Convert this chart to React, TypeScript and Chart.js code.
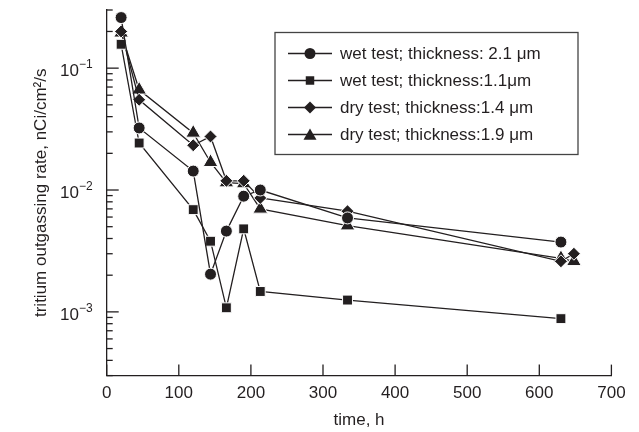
import React, { useEffect, useRef } from "react";
import { Chart, registerables } from "chart.js";

Chart.register(...registerables);

// ---- data ----
const wetTimes = [20, 45, 120, 144, 166, 190, 213, 334, 630];
const dryTimes = [20, 45, 120, 144, 166, 190, 213, 334, 630, 648];
const wet21 = [0.26, 0.0323, 0.0143, 0.00204, 0.0046, 0.0089, 0.01, 0.0059, 0.00374];
const wet11 = [0.157, 0.0243, 0.0069, 0.0038, 0.00108, 0.0048, 0.00147, 0.00125, 0.00088];
const dry14 = [0.2, 0.055, 0.0233, 0.0275, 0.0119, 0.0119, 0.0086, 0.0067, 0.0026, 0.003];
const dry19 = [0.195, 0.0664, 0.0294, 0.0169, 0.0115, 0.0113, 0.007, 0.0051, 0.00275, 0.0026];
const seriesLabels = [
  "wet test; thickness: 2.1 \u03bcm",
  "wet test; thickness:1.1\u03bcm",
  "dry test; thickness:1.4 \u03bcm",
  "dry test; thickness:1.9 \u03bcm",
];
const seriesMarkers = ["circle", "rect", "rectRot", "triangle"];
const yDecades = [1e-3, 1e-2, 1e-1];
const yDecadeExponents = ["\u22123", "\u22122", "\u22121"];
const xTitle = "time, h";
const yTitle = "tritium outgassing rate, nCi/cm\u00b2/s";

const INK = "#231f20";
const FONT = '"Liberation Sans", Arial, sans-serif';

function drawMarker(ctx: CanvasRenderingContext2D, kind: string, x: number, y: number, r: number) {
  ctx.beginPath();
  if (kind === "circle") {
    ctx.arc(x, y, r, 0, Math.PI * 2);
  } else if (kind === "rect") {
    const s = r * Math.SQRT1_2;
    ctx.rect(x - s, y - s, 2 * s, 2 * s);
  } else if (kind === "rectRot") {
    ctx.moveTo(x - r, y);
    ctx.lineTo(x, y - r);
    ctx.lineTo(x + r, y);
    ctx.lineTo(x, y + r);
    ctx.closePath();
  } else {
    const a = (2 * Math.PI) / 3;
    ctx.moveTo(x, y - r);
    ctx.lineTo(x + Math.sin(a) * r, y - Math.cos(a) * r);
    ctx.lineTo(x + Math.sin(2 * a) * r, y - Math.cos(2 * a) * r);
    ctx.closePath();
  }
  ctx.fill();
}

const customAxes = {
  id: "customAxes",
  afterDraw(chart: any) {
    const { ctx, chartArea } = chart;
    const xs = chart.scales.x;
    const ys = chart.scales.y;
    ctx.save();
    ctx.strokeStyle = INK;
    ctx.lineWidth = 1.3;
    // inward y ticks (log, majors longer)
    for (let e = -4; e <= 0; e++) {
      for (let m = 1; m <= 9; m++) {
        const v = m * Math.pow(10, e);
        if (v < ys.min * 0.999 || v > ys.max * 1.001) continue;
        const py = ys.getPixelForValue(v);
        const len = m === 1 ? 12 : 6;
        ctx.beginPath();
        ctx.moveTo(chartArea.left, py);
        ctx.lineTo(chartArea.left + len, py);
        ctx.stroke();
      }
    }
    // inward x ticks
    for (const t of xs.ticks) {
      const px = xs.getPixelForValue(t.value);
      ctx.beginPath();
      ctx.moveTo(px, chartArea.bottom);
      ctx.lineTo(px, chartArea.bottom - 11);
      ctx.stroke();
    }
    // y tick labels with superscripts
    ctx.fillStyle = INK;
    ctx.textBaseline = "middle";
    ctx.textAlign = "left";
    yDecades.forEach((v, i) => {
      const py = ys.getPixelForValue(v);
      ctx.font = `17px ${FONT}`;
      const w1 = ctx.measureText("10").width;
      ctx.font = `12px ${FONT}`;
      const w2 = ctx.measureText(yDecadeExponents[i]).width;
      const right = chartArea.left - 14;
      ctx.font = `17px ${FONT}`;
      ctx.fillText("10", right - w2 - w1, py + 3);
      ctx.font = `12px ${FONT}`;
      ctx.fillText(yDecadeExponents[i], right - w2, py - 3);
    });
    // legend
    const bx = 275, by = 32.5, bw = 303, bh = 122;
    ctx.lineWidth = 1.3;
    ctx.strokeStyle = "#444";
    ctx.strokeRect(bx, by, bw, bh);
    const rows = [53.5, 80.5, 107.5, 134.5];
    const sizes = [5.5, 6, 6, 7.5];
    chart.data.datasets.forEach((ds: any, i: number) => {
      const yy = rows[i];
      ctx.strokeStyle = INK;
      ctx.lineWidth = 1.3;
      ctx.beginPath();
      ctx.moveTo(288, yy);
      ctx.lineTo(332, yy);
      ctx.stroke();
      ctx.fillStyle = INK;
      drawMarker(ctx, seriesMarkers[i], 310, yy + (seriesMarkers[i] === "triangle" ? 1.5 : 0), sizes[i]);
      ctx.font = `17px ${FONT}`;
      ctx.textBaseline = "middle";
      ctx.fillText(ds.label, 340, yy + 1);
    });
    ctx.restore();
  },
};

function toPoints(times: number[], vals: number[]) {
  return times.map((t, i) => ({ x: t, y: vals[i] }));
}

export default function App() {
  const ref = useRef<HTMLCanvasElement | null>(null);
  useEffect(() => {
    if (!ref.current) return;
    const mk = (label: string, pts: any[], style: string, r: number) => ({
      label,
      data: pts,
      borderColor: INK,
      borderWidth: 1.3,
      pointStyle: style,
      pointRadius: r,
      pointBackgroundColor: INK,
      pointBorderColor: "#ffffff",
      pointBorderWidth: 1,
      fill: false,
      tension: 0,
    });
    const chart = new Chart(ref.current, {
      type: "line",
      data: {
        datasets: [
          mk(seriesLabels[0], toPoints(wetTimes, wet21), "circle", 6),
          mk(seriesLabels[1], toPoints(wetTimes, wet11), "rect", 7),
          mk(seriesLabels[2], toPoints(dryTimes, dry14), "rectRot", 6.5),
          mk(seriesLabels[3], toPoints(dryTimes, dry19), "triangle", 8.5),
        ],
      },
      options: {
        animation: false,
        responsive: true,
        maintainAspectRatio: false,
        layout: { padding: { left: 0, right: 27.6, top: 10, bottom: 1 } },
        plugins: { legend: { display: false }, tooltip: { enabled: false } },
        scales: {
          x: {
            type: "linear",
            min: 0,
            max: 700,
            ticks: { stepSize: 100, color: INK, font: { size: 17, family: FONT }, padding: 8 },
            grid: { display: true, drawOnChartArea: false, drawTicks: false },
            border: { display: true, color: INK, width: 1.3 },
            title: {
              display: true,
              text: xTitle,
              color: INK,
              font: { size: 17, family: FONT, lineHeight: 1 },
              padding: { top: 0, bottom: 2 },
            },
          },
          y: {
            type: "logarithmic",
            min: 3e-4,
            max: 0.3,
            ticks: { display: false },
            grid: { display: true, drawOnChartArea: false, drawTicks: false },
            border: { display: true, color: INK, width: 1.3 },
            title: {
              display: true,
              text: yTitle,
              color: INK,
              font: { size: 17, family: FONT, lineHeight: 1.2 },
              padding: { top: 30.8, bottom: 55.5 },
            },
          },
        },
      },
      plugins: [customAxes],
    });
    return () => chart.destroy();
  }, []);
  return (
    <div style={{ position: "fixed", left: 0, top: 0, width: 639, height: 432, background: "#fff" }}>
      <canvas ref={ref} />
    </div>
  );
}
